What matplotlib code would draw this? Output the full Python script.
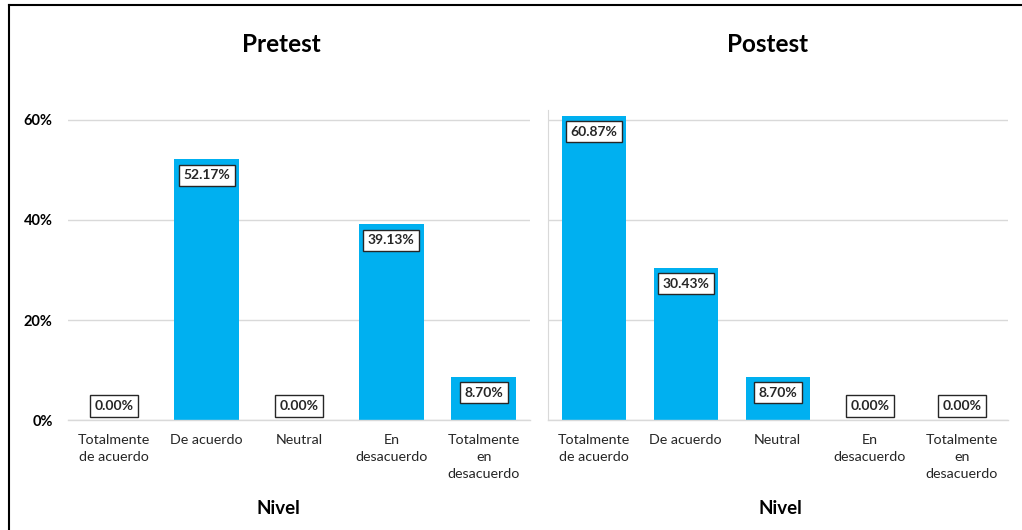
import matplotlib.pyplot as plt
from matplotlib.lines import Line2D
from matplotlib.ticker import FuncFormatter

plt.rcParams['font.family'] = ['Lato', 'DejaVu Sans']

niveles = ["Totalmente\nde acuerdo", "De acuerdo", "Neutral", "En\ndesacuerdo", "Totalmente\nen\ndesacuerdo"]
pretest = [0.0, 52.17, 0.0, 39.13, 8.70]
postest = [60.87, 30.43, 8.70, 0.0, 0.0]
titulos = ["Pretest", "Postest"]

BAR = "#00b0f0"
GRID = "#d9d9d9"

fig = plt.figure(figsize=(10.22, 5.30), dpi=100)
ax1 = fig.add_axes([0.0665, 0.2075, 0.452, 0.585])
ax2 = fig.add_axes([0.536, 0.2075, 0.450, 0.585])

# posicion horizontal de titulo y etiqueta de eje (fraccion del eje)
centros = [(0.463, 0.455), (0.478, 0.505)]

for ax, vals, titulo, (cx_t, cx_l) in [(ax1, pretest, titulos[0], centros[0]),
                                       (ax2, postest, titulos[1], centros[1])]:
    x = range(len(niveles))
    ax.bar(x, vals, width=0.70, color=BAR, zorder=2)
    ax.set_ylim(0, 62)
    ax.set_xlim(-0.5, len(niveles) - 0.5)
    ax.set_yticks([0, 20, 40, 60])
    ax.yaxis.grid(True, color=GRID, linewidth=1, zorder=0)
    ax.set_axisbelow(True)
    for s in ["top", "right", "left"]:
        ax.spines[s].set_visible(False)
    ax.spines["bottom"].set_color(GRID)
    ax.spines["bottom"].set_linewidth(1)
    ax.set_xticks(list(x))
    ax.set_xticklabels(niveles, fontsize=10.3, color="#262626", linespacing=1.5)
    ax.tick_params(axis="both", length=0)
    ax.tick_params(axis="x", pad=10)
    ax.set_title(titulo, fontsize=17.5, fontweight="bold", pad=42, x=cx_t)
    ax.set_xlabel("Nivel", fontsize=13.5, fontweight="bold")
    ax.xaxis.set_label_coords(cx_l, -0.258)
    for xi, v in zip(x, vals):
        off = -16 if v > 0 else 14
        ax.annotate(f"{v:.2f}%", (xi, v), xytext=(0, off), textcoords="offset pixels",
                    ha="center", va="center", fontsize=10, fontweight="bold", color="#262626",
                    bbox=dict(boxstyle="square,pad=0.33", fc="white", ec="#262626", lw=1), zorder=3)

ax1.yaxis.set_major_formatter(FuncFormatter(lambda v, p: f"{v:.0f}%"))
for lab in ax1.get_yticklabels():
    lab.set_fontweight("bold")
    lab.set_fontsize(10.5)
ax1.tick_params(axis="y", pad=11)
ax2.set_yticklabels([])
ax2.spines["left"].set_visible(True)
ax2.spines["left"].set_color(GRID)

# marco superior e izquierdo
top = 1 - 5 / 530
lft = 9 / 1022
fig.add_artist(Line2D([lft, 1], [top, top], color="black", lw=1.5, transform=fig.transFigure))
fig.add_artist(Line2D([lft, lft], [0, top], color="black", lw=1.5, transform=fig.transFigure))

fig.savefig("out.png", dpi=100, facecolor="white")
